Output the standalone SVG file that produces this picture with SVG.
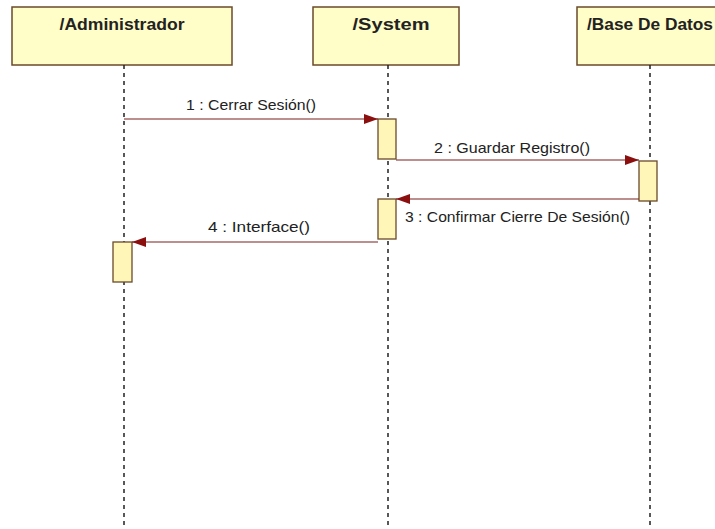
<svg xmlns="http://www.w3.org/2000/svg" width="715" height="529" viewBox="0 0 715 529">
<style>
.head{fill:#FFFDC8;stroke:#6B4A2B;stroke-width:1.5}
.act{fill:#FFF6B8;stroke:#6B4A2B;stroke-width:1.3}
.life{stroke:#222;stroke-width:1.5;stroke-dasharray:4 4;fill:none}
.title{font-family:"Liberation Sans",Arial,sans-serif;font-weight:bold;font-size:17px;fill:#222;text-anchor:middle}
.msg{stroke:#7A1E1E;stroke-width:1.2;fill:none}
.lbl{font-family:"Liberation Sans",Arial,sans-serif;font-size:15px;fill:#222}
</style>
<defs>
<marker id="ah" viewBox="0 0 14 10" refX="14" refY="5" markerWidth="14" markerHeight="10" markerUnits="userSpaceOnUse" orient="auto">
<path d="M0,0 L14,5 L0,10 Z" fill="#8B0F0F"/>
</marker>
</defs>
<rect width="715" height="529" fill="#fff"/>
<g id="administrador">
<rect class="head" x="12" y="7" width="220" height="58"/>
<text class="title" x="122" y="30" textLength="125" lengthAdjust="spacingAndGlyphs">/Administrador</text>
<line class="life" x1="124" y1="65" x2="124" y2="529"/>
<rect class="act" x="113" y="242" width="19" height="40"/>
</g>
<g id="system">
<rect class="head" x="313" y="7" width="146" height="58"/>
<text class="title" x="391" y="30" textLength="77" lengthAdjust="spacingAndGlyphs">/System</text>
<line class="life" x1="388" y1="65" x2="388" y2="529"/>
<rect class="act" x="378" y="119" width="18" height="40"/>
<rect class="act" x="378" y="199" width="18" height="40"/>
</g>
<g id="basededatos">
<rect class="head" x="577" y="7" width="146" height="58"/>
<text class="title" x="650" y="30" textLength="126" lengthAdjust="spacingAndGlyphs">/Base De Datos</text>
<line class="life" x1="650" y1="65" x2="650" y2="529"/>
<rect class="act" x="639" y="161" width="18" height="40"/>
</g>
<g id="connectors">
<line class="msg" x1="124" y1="119" x2="378" y2="119" marker-end="url(#ah)"/>
<text class="lbl" x="186" y="110" textLength="130" lengthAdjust="spacingAndGlyphs">1 : Cerrar Sesión()</text>
<line class="msg" x1="396" y1="160" x2="639" y2="160" marker-end="url(#ah)"/>
<text class="lbl" x="434" y="153" textLength="156" lengthAdjust="spacingAndGlyphs">2 : Guardar Registro()</text>
<line class="msg" x1="639" y1="199" x2="396" y2="199" marker-end="url(#ah)"/>
<text class="lbl" x="405" y="222" textLength="225" lengthAdjust="spacingAndGlyphs">3 : Confirmar Cierre De Sesión()</text>
<line class="msg" x1="378" y1="242" x2="132" y2="242" marker-end="url(#ah)"/>
<text class="lbl" x="208" y="232" textLength="102" lengthAdjust="spacingAndGlyphs">4 : Interface()</text>
</g>
</svg>
